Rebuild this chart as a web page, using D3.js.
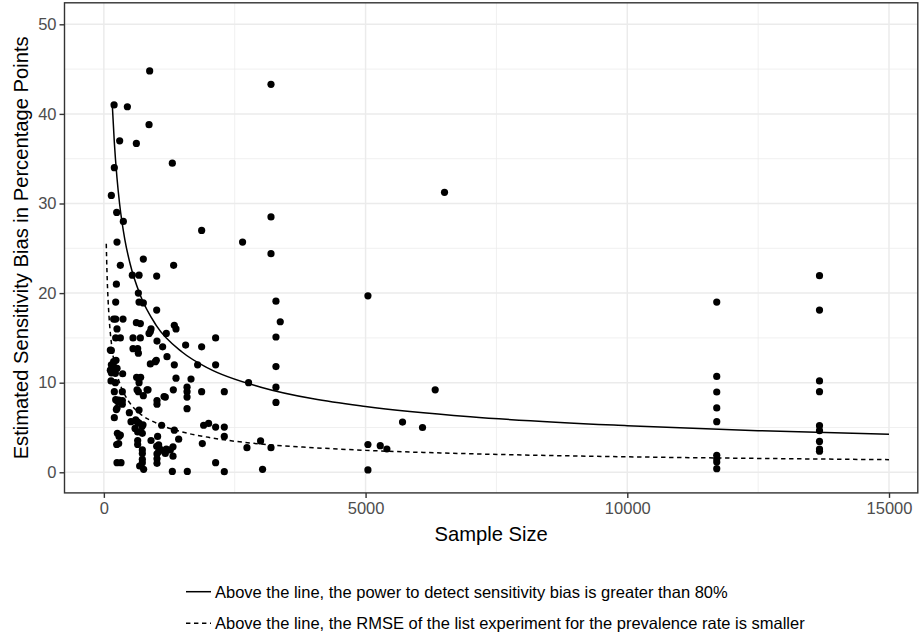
<!DOCTYPE html>
<html>
<head>
<meta charset="utf-8">
<script src="https://cdn.jsdelivr.net/npm/d3@7"></script>
<style>
  body { margin: 0; background: #fff; }
  svg { font-family: "Liberation Sans", Arial, sans-serif; }
</style>
</head>
<body>
<div id="canvas"></div>
<script>
// studies: sample size and estimated sensitivity bias
const sampleSize = [
  875, 3193, 195, 449, 863, 302, 621, 1308, 200, 143, 245, 372, 3193, 1868, 251, 2650, 3193,
  754, 315, 1333, 544, 672, 1009, 239, 659, 226, 672, 754, 3288, 1009, 3370, 226, 366, 621, 697,
  251, 901, 863, 1346, 1378, 1193, 3288, 226, 315, 557, 697, 1015, 2135, 557, 646, 659, 1123,
  1562, 1868, 143, 1206, 232, 1002, 888, 1346, 1791, 2135, 3288, 143, 187, 143, 220, 359, 626,
  703, 1378, 1665, 137, 220, 672, 2765, 3288, 1327, 1589, 1589, 1589, 1868, 2301, 200, 353, 659,
  844, 754, 226, 353, 264, 1015, 1015, 1150, 3288, 1589, 239, 353, 672, 200, 487, 519, 608, 672,
  748, 1104, 596, 1346, 1906, 2001, 2135, 2301, 258, 315, 290, 646, 735, 1027, 901, 1429, 2301,
  245, 646, 646, 1009, 1079, 1193, 1321, 735, 735, 1015, 1015, 1015, 1321, 1881, 2734, 2994,
  3193, 735, 735, 684, 760, 251, 328, 1308, 1594, 2135, 2301, 3032,
  283, 251, 634, 825, 1174, 634, 729, 283, 1047, 1047, 1174, 1270, 888, 187, 124, 187, 124, 252, 983,
  5045, 5706, 6088, 5045, 5280, 5407, 5045, 6508, 6330,
  11709, 11709, 11709, 11709, 11709, 11709, 11709, 11709, 11709,
  13672, 13672, 13672, 13672, 13672, 13672, 13672, 13672, 13672
];
const biasEstimate = [
  44.8, 43.3, 41.0, 40.8, 38.8, 37.0, 36.7, 34.5, 34.0, 30.9, 29.0, 28.0, 28.5, 27.0, 25.7, 25.7, 24.4,
  23.8, 23.1, 23.1, 22.0, 22.0, 21.9, 21.0, 20.0, 19.0, 19.0, 18.9, 19.1, 18.1, 16.8, 17.1, 17.1, 16.7, 16.6,
  16.0, 16.0, 15.5, 16.4, 16.0, 15.5, 15.1, 15.0, 15.0, 15.0, 15.0, 14.65, 15.0, 13.8, 13.8, 13.3, 14.0,
  14.2, 14.0, 13.6, 12.9, 12.5, 12.5, 12.1, 12.0, 12.0, 12.0, 11.8, 12.0, 11.8, 11.1, 11.05, 11.0, 10.6,
  10.6, 10.5, 10.4, 10.2, 10.0, 10.0, 10.0, 9.5, 9.2, 9.5, 9.0, 8.4, 9.0, 9.0, 9.0, 9.0, 9.0,
  9.2, 8.55, 8.1, 8.0, 7.9, 8.0, 7.6, 8.45, 7.8, 7.1, 7.0, 7.6, 6.95, 6.1, 6.65, 5.65, 5.85, 5.5,
  5.3, 5.25, 4.9, 4.7, 5.25, 5.45, 5.05, 5.05, 4.35, 4.15, 4.0, 4.5, 4.35, 4.0, 3.55, 3.7, 4.0,
  3.1, 3.55, 3.1, 2.9, 2.55, 2.6, 2.85, 2.5, 2.1, 2.05, 1.5, 1.0, 1.8, 3.2, 2.75, 3.5,
  2.75, 1.45, 1.07, 0.7, 0.33, 1.07, 1.07, 0.1, 0.1, 1.07, 0.07, 0.33,
  8.07, 7.14, 9.2, 9.2, 8.4, 5.65, 5.1, 3.2, 3.05, 2.3, 2.1, 2.5, 15.7, 17.1, 13.65, 12.35, 11.4, 11.6, 12.35,
  19.7, 5.6, 5.0, 3.1, 2.97, 2.6, 0.26, 31.25, 9.2,
  19.0, 10.7, 8.96, 7.18, 5.65, 1.9, 1.5, 1.15, 0.4,
  21.95, 18.1, 10.2, 9.0, 5.2, 4.65, 3.45, 2.6, 2.35
];

// power line (80% power threshold)
const powerN    = [160, 200, 250, 300, 400, 500, 700, 1000, 1500, 2000, 3000, 4000, 5000, 7000, 10000, 12500, 15000];
const powerBias = [41.1, 36.8, 32.9, 30.0, 26.0, 23.3, 19.7, 16.4, 13.4, 11.6, 9.5, 8.2, 7.35, 6.2, 5.2, 4.65, 4.25];

// RMSE line
const rmseN    = [46, 60, 80, 100, 150, 200, 300, 400, 500, 700, 1000, 1500, 2000, 3000, 4000, 5000, 7000, 10000, 12500, 15000];
const rmseBias = [25.5, 22.3, 19.3, 17.3, 14.1, 12.2, 10.0, 8.65, 7.7, 6.5, 5.5, 4.5, 3.9, 3.15, 2.75, 2.45, 2.07, 1.73, 1.55, 1.41];

const xTicks = [0, 5000, 10000, 15000];
const xMinor = [2500, 7500, 12500];
const yTicks = [0, 10, 20, 30, 40, 50];
const yMinor = [5, 15, 25, 35, 45];

const legendLabels = [
  "Above the line, the power to detect sensitivity bias is greater than 80%",
  "Above the line, the RMSE of the list experiment for the prevalence rate is smaller"
];
const legendDash = [null, "4.4,3.6"];

const width = 919;
const height = 636;
const panel = { left: 64.5, right: 917.8, top: 2.8, bottom: 492.9 };

const svg = d3.select("#canvas").append("svg")
  .attr("width", width)
  .attr("height", height);

svg.append("rect").attr("width", width).attr("height", height).attr("fill", "#fff");

const x = d3.scaleLinear().domain([-752, 15550]).range([panel.left, panel.right]);
const y = d3.scaleLinear().domain([-2.3, 52.4]).range([panel.bottom, panel.top]);

// grid
const grid = svg.append("g");
grid.selectAll(".xminor").data(xMinor).enter().append("line")
  .attr("x1", d => x(d)).attr("x2", d => x(d))
  .attr("y1", panel.top).attr("y2", panel.bottom)
  .attr("stroke", "#ebebeb").attr("stroke-width", 0.75);
grid.selectAll(".yminor").data(yMinor).enter().append("line")
  .attr("y1", d => y(d)).attr("y2", d => y(d))
  .attr("x1", panel.left).attr("x2", panel.right)
  .attr("stroke", "#ebebeb").attr("stroke-width", 0.75);
grid.selectAll(".xmajor").data(xTicks).enter().append("line")
  .attr("x1", d => x(d)).attr("x2", d => x(d))
  .attr("y1", panel.top).attr("y2", panel.bottom)
  .attr("stroke", "#ebebeb").attr("stroke-width", 1.5);
grid.selectAll(".ymajor").data(yTicks).enter().append("line")
  .attr("y1", d => y(d)).attr("y2", d => y(d))
  .attr("x1", panel.left).attr("x2", panel.right)
  .attr("stroke", "#ebebeb").attr("stroke-width", 1.5);

// points
const pts = sampleSize.map((n, i) => ({ n: n, v: biasEstimate[i] }));
svg.append("g").selectAll("circle").data(pts).enter().append("circle")
  .attr("cx", d => x(d.n))
  .attr("cy", d => y(d.v))
  .attr("r", 3.6)
  .attr("fill", "#000");

// lines
const line = d3.line().x(d => x(d[0])).y(d => y(d[1])).curve(d3.curveMonotoneX);
svg.append("path")
  .datum(powerN.map((n, i) => [n, powerBias[i]]))
  .attr("d", line)
  .attr("fill", "none").attr("stroke", "#000").attr("stroke-width", 1.5);
svg.append("path")
  .datum(rmseN.map((n, i) => [n, rmseBias[i]]))
  .attr("d", line)
  .attr("fill", "none").attr("stroke", "#000").attr("stroke-width", 1.5)
  .attr("stroke-dasharray", legendDash[1]);

// panel border
svg.append("rect")
  .attr("x", panel.left).attr("y", panel.top)
  .attr("width", panel.right - panel.left).attr("height", panel.bottom - panel.top)
  .attr("fill", "none").attr("stroke", "#333333").attr("stroke-width", 1.4);

// axes
const xAxis = svg.append("g")
  .attr("transform", `translate(0,${panel.bottom})`)
  .call(d3.axisBottom(x).tickValues(xTicks).tickFormat(d3.format("d")).tickSize(5).tickPadding(4));
const yAxis = svg.append("g")
  .attr("transform", `translate(${panel.left},0)`)
  .call(d3.axisLeft(y).tickValues(yTicks).tickSize(5).tickPadding(3));
[xAxis, yAxis].forEach(a => {
  a.select(".domain").remove();
  a.selectAll(".tick line").attr("stroke", "#333333").attr("stroke-width", 1.4);
  a.selectAll(".tick text").attr("fill", "#4d4d4d").style("font-size", "16.5px")
    .style("font-family", "Liberation Sans, Arial, sans-serif");
});

// axis titles
svg.append("text")
  .attr("x", (panel.left + panel.right) / 2)
  .attr("y", 541)
  .attr("text-anchor", "middle")
  .style("font-size", "20.2px")
  .text("Sample Size");
svg.append("text")
  .attr("transform", `translate(28,${(panel.top + panel.bottom) / 2}) rotate(-90)`)
  .attr("text-anchor", "middle")
  .style("font-size", "20.2px")
  .text("Estimated Sensitivity Bias in Percentage Points");

// legend
const legend = svg.append("g");
const rowY = [591.7, 623.3];
legendLabels.forEach((lab, i) => {
  legend.append("line")
    .attr("x1", 186).attr("x2", 211)
    .attr("y1", rowY[i]).attr("y2", rowY[i])
    .attr("stroke", "#000").attr("stroke-width", 1.5)
    .attr("stroke-dasharray", legendDash[i]);
  legend.append("text")
    .attr("x", 215).attr("y", rowY[i])
    .attr("dy", "0.36em")
    .style("font-size", "16.5px")
    .text(lab);
});
</script>
</body>
</html>
